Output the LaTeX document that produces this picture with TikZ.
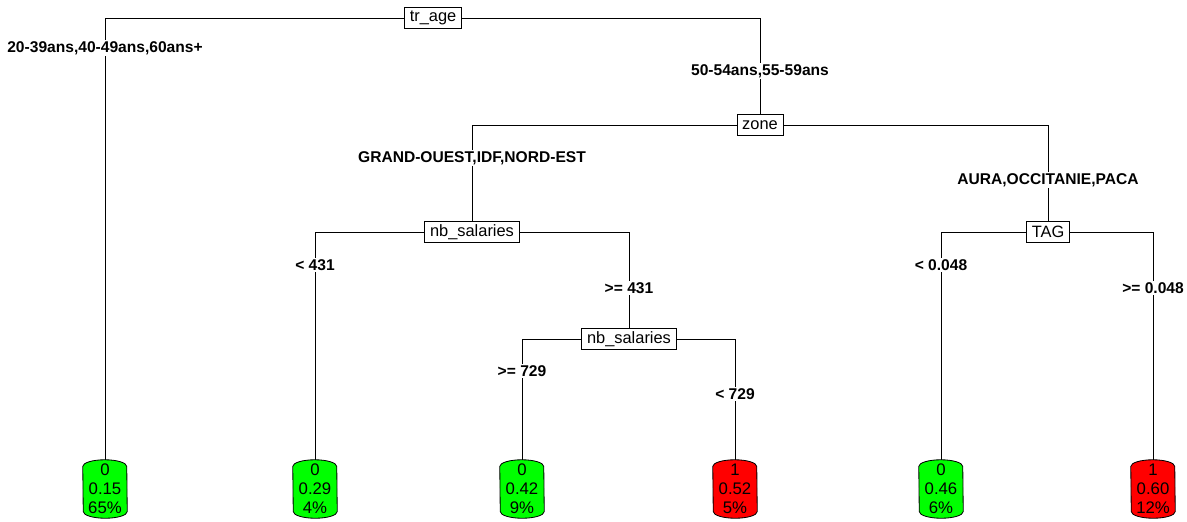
\documentclass[tikz,border=0pt]{standalone}
\usepackage{fontspec}
\setmainfont{Liberation Sans}
\usetikzlibrary{positioning,backgrounds}
\definecolor{leafgreen}{RGB}{0,255,0}
\definecolor{leafred}{RGB}{255,0,0}

\begin{document}
\begin{tikzpicture}[x=0.03cm, y=-0.03cm,
	split/.style={draw, fill=white, line width=0.7pt, inner xsep=4.5pt, inner ysep=0pt, minimum height=0.63cm, font=\fontsize{14}{16}\selectfont},
	cond/.style={fill=white, inner sep=1.5pt, font=\fontsize{13.3}{15}\selectfont\bfseries},
	leaf/.style={inner sep=0pt, minimum width=1.32cm, minimum height=1.74cm, align=center, font=\fontsize{14.3}{16.2}\selectfont},
	branch/.style={line width=0.7pt}]
	
	\useasboundingbox (0,0) rectangle (1187,521);
	
	% splits
	\node[split] (age) at (433,18) {tr\_age};
	\node[split] (zone) at (760,125) {zone};
	\node[split] (nbs) at (472,232) {nb\_salaries};
	\node[split] (tag) at (1048,232) {TAG};
	\node[split] (nbs2) at (629,339) {nb\_salaries};
	
	% leaves
	\node[leaf] (l1) at (105,489) {0\\0.15\\65\%};
	\node[leaf] (l2) at (315,489) {0\\0.29\\4\%};
	\node[leaf] (l3) at (522,489) {0\\0.42\\9\%};
	\node[leaf] (l4) at (735,489) {1\\0.52\\5\%};
	\node[leaf] (l5) at (941,489) {0\\0.46\\6\%};
	\node[leaf] (l6) at (1153,489) {1\\0.60\\12\%};
	
	\begin{scope}[on background layer]
		\draw[branch] (age.west) -| (l1.north);
		\draw[branch] (age.east) -| (zone.north);
		\draw[branch] (zone.west) -| (nbs.north);
		\draw[branch] (zone.east) -| (tag.north);
		\draw[branch] (nbs.west) -| (l2.north);
		\draw[branch] (nbs.east) -| (nbs2.north);
		\draw[branch] (nbs2.west) -| (l3.north);
		\draw[branch] (nbs2.east) -| (l4.north);
		\draw[branch] (tag.west) -| (l5.north);
		\draw[branch] (tag.east) -| (l6.north);
		
		\foreach \n/\c in {l1/leafgreen, l2/leafgreen, l3/leafgreen, l4/leafred, l5/leafgreen, l6/leafred}
		\draw[branch, fill=\c] ([yshift=-0.2cm]\n.north west)
			arc[start angle=180, end angle=0, x radius=0.66cm, y radius=0.2cm]
			-- ([yshift=0.2cm]\n.south east)
			arc[start angle=0, end angle=-180, x radius=0.66cm, y radius=0.2cm]
			-- cycle;
	\end{scope}
	
	% conditions
	\node[cond] (c1) at (105,48) {20-39ans,40-49ans,60ans+};
	\node[cond] (c2) at (760,71) {50-54ans,55-59ans};
	\node[cond] (c3) at (472,158) {GRAND-OUEST,IDF,NORD-EST};
	\node[cond] (c4) at (1048,180) {AURA,OCCITANIE,PACA};
	\node[cond] (c5) at (315,265) {< 431};
	\node[cond] (c6) at (629,288) {>= 431};
	\node[cond] (c7) at (522,371) {>= 729};
	\node[cond] (c8) at (735,394) {< 729};
	\node[cond] (c9) at (941,265) {< 0.048};
	\node[cond] (c10) at (1153,288) {>= 0.048};
	
\end{tikzpicture}
\end{document}
